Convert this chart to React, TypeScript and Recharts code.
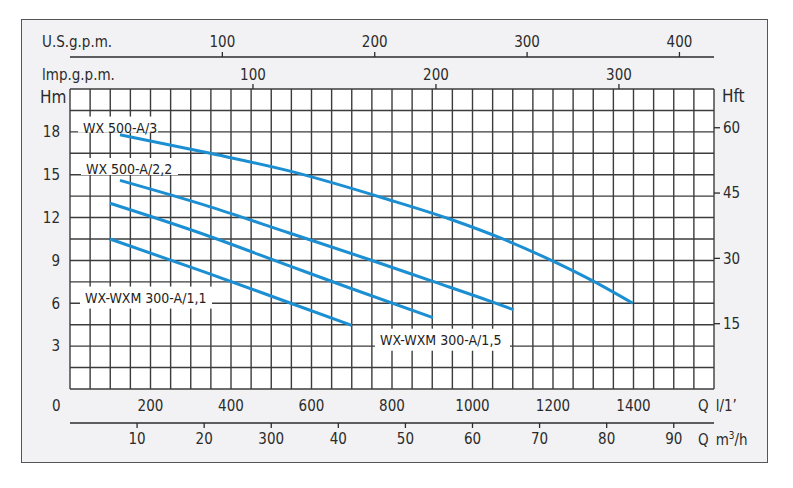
import { LineChart, Line, XAxis, YAxis, CartesianGrid, ReferenceDot, Customized } from 'recharts'

const FONT = '"DejaVu Sans Condensed", "DejaVu Sans", sans-serif'
const INK = '#2b2b2b'
const GRID = '#3c3c3c'
const BLUE = '#1b8fd2'

// pump curves: q = flow (m3/h), h = head (m)
const wx500a3 = [
  { q: 7.45, h: 17.8 }, { q: 20.9, h: 16.5 }, { q: 32.8, h: 15.25 }, { q: 47.2, h: 13.3 },
  { q: 56.6, h: 11.9 }, { q: 64.8, h: 10.45 }, { q: 72, h: 8.95 }, { q: 78, h: 7.55 }, { q: 83.9, h: 6.0 },
]
const wx500a22 = [
  { q: 7.45, h: 14.6 }, { q: 20.9, h: 12.75 }, { q: 32.8, h: 10.9 }, { q: 44.7, h: 9.05 },
  { q: 53.65, h: 7.6 }, { q: 62.6, h: 6.15 }, { q: 66.1, h: 5.55 },
]
const wxm300a15 = [
  { q: 5.96, h: 13.0 }, { q: 19.5, h: 10.9 }, { q: 32.8, h: 8.6 }, { q: 41.7, h: 7.07 }, { q: 54.1, h: 5.0 },
]
const wxm300a11 = [
  { q: 5.96, h: 10.5 }, { q: 20, h: 8.2 }, { q: 32.8, h: 6.02 }, { q: 42, h: 4.45 },
]

// curve captions: left edge of text (q, h), box width and box extent below the text centre
const captions = [
  { text: 'WX 500-A/3', q: 1.94, h: 18.3, w: 80, below: 5 },
  { text: 'WX 500-A/2,2', q: 2.38, h: 15.4, w: 97, below: 6 },
  { text: 'WX-WXM 300-A/1,1', q: 2.24, h: 6.4, w: 132, below: 11 },
  { text: 'WX-WXM 300-A/1,5', q: 46.2, h: 3.45, w: 135, below: 11 },
]

const gridQ = [0, 3, 6, 9, 12, 15, 18, 21, 24, 27, 30, 33, 36, 39, 42, 45, 48, 51, 54, 57, 60, 63, 66, 69, 72, 75, 78, 81, 84, 87, 90, 93, 96]
const gridH = [0, 1.5, 3, 4.5, 6, 7.5, 9, 10.5, 12, 13.5, 15, 16.5, 18, 19.5, 21]
const headTicksM = [3, 6, 9, 12, 15, 18]
const headTicksFt = [15, 30, 45, 60]
const flowTicksLmin = [200, 400, 600, 800, 1000, 1200, 1400]
const flowTicksM3h = [10, 20, 30, 40, 50, 60, 70, 80, 90]
const flowLabelsM3h = ['10', '20', '300', '40', '50', '60', '70', '80', '90']
const usGpmTicks = [100, 200, 300, 400]
const impGpmTicks = [100, 200, 300]

const Q_MAX = 96 // m3/h = 1600 l/min
const H_MAX = 21

// unit ranges of the chart frame, one row per end
const unitRange = [
  { q: 0, lmin: 0, us: 0, imp: 0, m: 0, ft: 0 },
  { q: Q_MAX, lmin: 1600, us: 1600 / 3.785411784, imp: 1600 / 4.54609, m: H_MAX, ft: H_MAX / 0.3048 },
]

const tickStyle = { fill: INK, fontSize: 15, fontFamily: FONT }
const tickLineStyle = { stroke: INK, strokeWidth: 1.3 }

function Caption(props: any) {
  const { cx, cy, text, w, below } = props
  return (
    <g>
      <rect x={cx - 5} y={cy - 11} width={w} height={11 + below} fill="#fff" />
      <text x={cx} y={cy} dy="0.36em" fontSize={14} fontFamily={FONT} fill="#222">{text}</text>
    </g>
  )
}

function Titles() {
  const t = { fill: INK, fontFamily: FONT, fontSize: 15 }
  return (
    <g>
      <text x={42} y={47} {...t}>U.S.g.p.m.</text>
      <text x={42} y={80} {...t}>lmp.g.p.m.</text>
      <text x={40} y={103} {...t} fontSize={17}>Hm</text>
      <text x={722} y={102} {...t} fontSize={17}>Hft</text>
      <text x={52} y={411} {...t}>0</text>
      <text x={698} y={411} {...t}>Q<tspan dx={7}>l/1’</tspan></text>
      <text x={698} y={445} {...t}>Q<tspan dx={7}>m</tspan><tspan dy={-6} fontSize={10}>3</tspan><tspan dy={6}>/h</tspan></text>
    </g>
  )
}

export default function App() {
  return (
    <div style={{ position: 'absolute', left: 0, top: 0, width: 793, height: 488, background: '#fff' }}>
      <div style={{ position: 'absolute', left: 21, top: 19, width: 745, height: 442, border: '1px solid #555', background: '#f2f2f4' }} />
      <div style={{ position: 'absolute', left: 0, top: 0 }}>
        <LineChart width={793} height={488} data={unitRange} margin={{ top: 29, right: 78, bottom: 43, left: 69 }} style={{ fontFamily: FONT }}>
          <XAxis xAxisId="g" type="number" dataKey="q" domain={[0, Q_MAX]} ticks={gridQ} interval={0} allowDataOverflow hide height={0} />
          <YAxis yAxisId="g" type="number" dataKey="m" domain={[0, H_MAX]} ticks={gridH} interval={0} allowDataOverflow hide width={0} />
          <CartesianGrid xAxisId="g" yAxisId="g" stroke={GRID} strokeWidth={1.4} fill="#fff" />

          <XAxis xAxisId="lmin" orientation="bottom" type="number" dataKey="lmin" domain={[0, 1600]} ticks={flowTicksLmin} allowDataOverflow
            height={34} axisLine={false} tickLine={false} tickSize={0} tickMargin={11} tick={tickStyle} interval={0} />
          <XAxis xAxisId="m3h" orientation="bottom" type="number" dataKey="q" domain={[0, Q_MAX]} ticks={flowTicksM3h} allowDataOverflow
            height={22} axisLine={tickLineStyle} tickLine={tickLineStyle} tickSize={5} tickMargin={5}
            tick={tickStyle} interval={0} tickFormatter={(v: number) => flowLabelsM3h[flowTicksM3h.indexOf(v)]} />

          <XAxis xAxisId="imp" orientation="top" type="number" dataKey="imp" domain={[0, 1600 / 4.54609]} ticks={impGpmTicks} allowDataOverflow
            height={32} axisLine={false} tickLine={tickLineStyle} tickSize={5} tickMargin={4} tick={tickStyle} interval={0} />
          <XAxis xAxisId="us" orientation="top" type="number" dataKey="us" domain={[0, 1600 / 3.785411784]} ticks={usGpmTicks} allowDataOverflow
            height={28} axisLine={tickLineStyle} tickLine={tickLineStyle} tickSize={5} tickMargin={5} tick={tickStyle} interval={0} />

          <YAxis yAxisId="m" orientation="left" type="number" dataKey="m" domain={[0, H_MAX]} ticks={headTicksM} allowDataOverflow
            width={1} axisLine={false} tickLine={false} tickSize={0} tickMargin={10} tick={tickStyle} interval={0} />
          <YAxis yAxisId="ft" orientation="right" type="number" dataKey="ft" domain={[0, H_MAX / 0.3048]} ticks={headTicksFt} allowDataOverflow
            width={1} axisLine={false} tickLine={tickLineStyle} tickSize={6} tickMargin={3} tick={tickStyle} interval={0} />

          <Line xAxisId="g" yAxisId="g" data={wx500a3} dataKey="h" type="monotone" stroke={BLUE} strokeWidth={3} dot={false} isAnimationActive={false} />
          <Line xAxisId="g" yAxisId="g" data={wx500a22} dataKey="h" type="monotone" stroke={BLUE} strokeWidth={3} dot={false} isAnimationActive={false} />
          <Line xAxisId="g" yAxisId="g" data={wxm300a15} dataKey="h" type="monotone" stroke={BLUE} strokeWidth={3} dot={false} isAnimationActive={false} />
          <Line xAxisId="g" yAxisId="g" data={wxm300a11} dataKey="h" type="monotone" stroke={BLUE} strokeWidth={3} dot={false} isAnimationActive={false} />

          {captions.map((c) => (
            <ReferenceDot key={c.text} xAxisId="g" yAxisId="g" x={c.q} y={c.h} r={1} ifOverflow="visible"
              shape={(p: any) => <Caption cx={p.cx} cy={p.cy} text={c.text} w={c.w} below={c.below} />} />
          ))}

          <Customized component={Titles} />
        </LineChart>
      </div>
    </div>
  )
}
